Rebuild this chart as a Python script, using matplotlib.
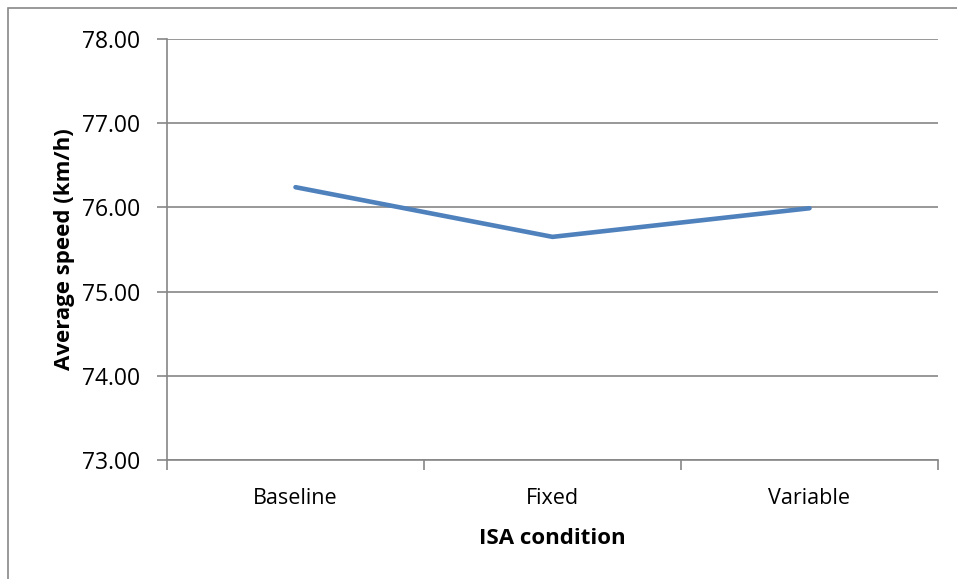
import matplotlib
matplotlib.use("Agg")
import matplotlib.pyplot as plt
from matplotlib.patches import Rectangle

conditions = ["Baseline", "Fixed", "Variable"]
avg_speed = [76.24, 75.65, 75.99]
y_ticks = [73, 74, 75, 76, 77, 78]

plt.rcParams['font.family'] = ['Open Sans', 'DejaVu Sans']

W, H = 957, 579
fig = plt.figure(figsize=(W / 100, H / 100), dpi=100)
ax = fig.add_axes([167 / W, 1 - 460 / H, (938 - 167) / W, (460 - 39) / H])

grid_col = "#868686"
x = list(range(len(conditions)))
ax.plot(x, avg_speed, color="#4F81BD", lw=3.3, solid_capstyle="round", zorder=3)

ax.set_xlim(-0.5, len(conditions) - 0.5)
ax.set_ylim(73, 78)
ax.set_yticks(y_ticks)
ax.set_yticklabels(["%.2f" % v for v in y_ticks], fontsize=16.5)
ax.set_xticks([i - 0.5 for i in range(len(conditions) + 1)])
ax.set_xticklabels([])
ax.set_xticks(x, minor=True)
ax.set_xticklabels(conditions, minor=True, fontsize=15.5)
ax.tick_params(axis="x", which="minor", length=0, pad=20)
ax.tick_params(axis="x", which="major", length=7, color=grid_col, width=1.2)
ax.tick_params(axis="y", length=7, color=grid_col, width=1.2, pad=12)

ax.yaxis.grid(True, color=grid_col, lw=1.2)
ax.set_axisbelow(True)
for s in ["top", "right"]:
    ax.spines[s].set_visible(False)
for s in ["left", "bottom"]:
    ax.spines[s].set_color(grid_col)
    ax.spines[s].set_linewidth(1.2)

ax.set_ylabel("Average speed (km/h)", fontsize=16, fontweight="bold", labelpad=5)
ax.set_xlabel("ISA condition", fontsize=16, fontweight="bold", labelpad=14)

# outer chart border (cropped on right/bottom)
fig.patches.append(Rectangle((8 / W, -0.01), 1.02, 1 - 8 / H + 0.01, transform=fig.transFigure,
                             fill=False, edgecolor="#888888", lw=1.2))

fig.savefig("out.png", dpi=100)
